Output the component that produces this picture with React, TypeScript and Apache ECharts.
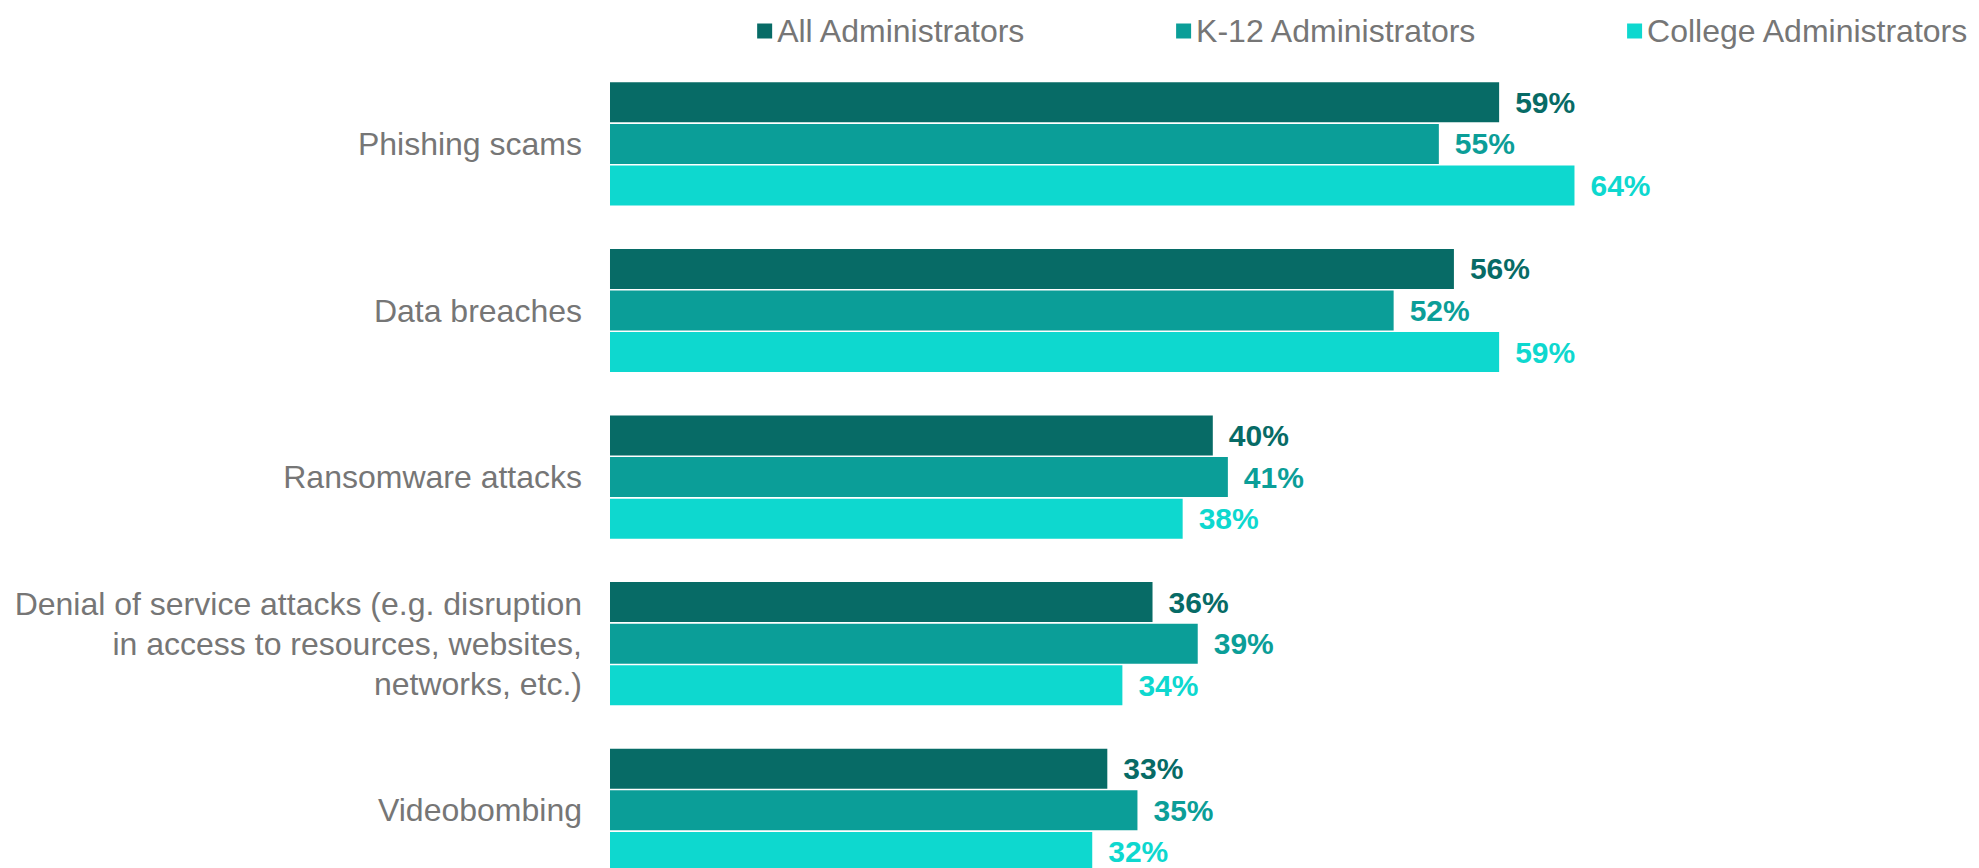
import React, { useEffect, useRef } from "react";
import * as echarts from "echarts";

const categories = [
  "Phishing scams",
  "Data breaches",
  "Ransomware attacks",
  "Denial of service attacks (e.g. disruption\nin access to resources, websites,\nnetworks, etc.)",
  "Videobombing",
];
const seriesNames = ["All Administrators", "K-12 Administrators", "College Administrators"];
const allAdmins = [59, 56, 40, 36, 33];
const k12Admins = [55, 52, 41, 39, 35];
const collegeAdmins = [64, 59, 38, 34, 32];
const colors = ["#076B66", "#0B9E98", "#0ED8CF"];

export default function App() {
  const ref = useRef<HTMLDivElement>(null);
  useEffect(() => {
    if (!ref.current) return;
    const chart = echarts.init(ref.current, null, { renderer: "svg" });
    const dataSets = [allAdmins, k12Admins, collegeAdmins];
    chart.setOption({
      animation: false,
      textStyle: { fontFamily: "Liberation Sans, Arial, sans-serif" },
      legend: {
        data: seriesNames,
        right: 5,
        top: 10,
        itemWidth: 15,
        itemHeight: 15,
        itemGap: 150,
        icon: "rect",
        textStyle: { color: "#767676", fontSize: 32, padding: [0, 0, 0, 0] },
      },
      grid: { left: 610, top: 60.6, height: 833, right: 163.4 },
      xAxis: {
        type: "value",
        min: 0,
        max: 80,
        show: false,
        splitLine: { show: false },
      },
      yAxis: {
        type: "category",
        data: categories,
        inverse: true,
        axisLine: { show: false },
        axisTick: { show: false },
        axisLabel: {
          margin: 28,
          fontSize: 32,
          color: "#767676",
          lineHeight: 40,
          align: "right",
        },
      },
      series: dataSets.map((d, i) => ({
        name: seriesNames[i],
        type: "bar",
        data: d,
        barWidth: 40,
        barGap: "4%",
        itemStyle: { color: colors[i] },
        label: {
          show: true,
          position: "right",
          distance: 16,
          formatter: "{c}%",
          fontSize: 30,
          fontWeight: "bold",
          color: colors[i],
        },
      })),
    });
    return () => chart.dispose();
  }, []);
  return (
    <div
      ref={ref}
      style={{ position: "absolute", left: 0, top: 0, width: 1979, height: 920 }}
    />
  );
}
